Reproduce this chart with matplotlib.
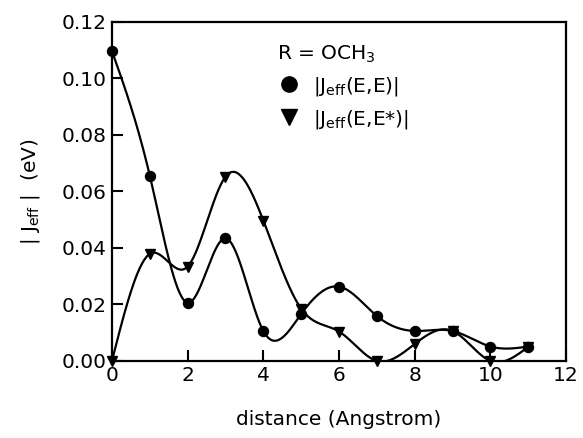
import numpy as np
import matplotlib
matplotlib.use("Agg")
import matplotlib.pyplot as plt
from matplotlib.lines import Line2D

# distance in Angstrom
distance = [0, 1, 2, 3, 4, 5, 6, 7, 8, 9, 10, 11]
j_ee = [0.1097, 0.0656, 0.0206, 0.0434, 0.0106, 0.0166, 0.0263, 0.0159, 0.0106, 0.0106, 0.0051, 0.0051]
j_eestar = [0.0, 0.0379, 0.0334, 0.0652, 0.0497, 0.0185, 0.0104, 0.0, 0.0060, 0.0106, 0.0, 0.0050]


def natural_spline(x, y, n=400):
    # smooth curve through the points, like the original plot program
    x = np.asarray(x, float)
    y = np.asarray(y, float)
    m = len(x)
    h = np.diff(x)
    A = np.zeros((m, m))
    b = np.zeros(m)
    A[0, 0] = A[-1, -1] = 1
    for i in range(1, m - 1):
        A[i, i - 1] = h[i - 1]
        A[i, i] = 2 * (h[i - 1] + h[i])
        A[i, i + 1] = h[i]
        b[i] = 6 * ((y[i + 1] - y[i]) / h[i] - (y[i] - y[i - 1]) / h[i - 1])
    M = np.linalg.solve(A, b)
    xs = np.linspace(x[0], x[-1], n)
    k = np.clip(np.searchsorted(x, xs) - 1, 0, m - 2)
    t1 = x[k + 1] - xs
    t0 = xs - x[k]
    hk = h[k]
    ys = (M[k] * t1**3 + M[k + 1] * t0**3) / (6 * hk) \
        + (y[k] / hk - M[k] * hk / 6) * t1 + (y[k + 1] / hk - M[k + 1] * hk / 6) * t0
    return xs, ys


plt.rcParams['font.family'] = 'DejaVu Sans'
fig = plt.figure(figsize=(5.83, 4.38), dpi=100)
ax = fig.add_axes([0.192, 0.176, 0.779, 0.774])

for ys, mk in [(j_ee, 'o'), (j_eestar, 'v')]:
    sx, sy = natural_spline(distance, ys)
    ax.plot(sx, sy, color='black', lw=1.6, clip_on=True)
    ax.plot(distance, ys, mk, color='black', ms=7.2, clip_on=False, zorder=3)

ax.set_xlim(0, 12)
ax.set_ylim(0, 0.12)
ax.set_xticks(range(0, 13, 2))
ax.set_yticks(np.arange(0, 0.121, 0.02))
ax.yaxis.set_major_formatter(matplotlib.ticker.FormatStrFormatter('%.2f'))
ax.tick_params(direction='in', length=8, width=1.5, labelsize=14.5, pad=4,
               top=False, right=False)
for s in ax.spines.values():
    s.set_linewidth(1.6)

ax.set_xlabel('distance (Angstrom)', fontsize=14.5, labelpad=18)
ax.set_ylabel(r'| J$_{\rm eff}$ |  (eV)', fontsize=14.5, labelpad=14)

handles = [Line2D([], [], marker='o', ls='none', color='black', ms=11),
           Line2D([], [], marker='v', ls='none', color='black', ms=11)]
ax.legend(handles, [r'|J$_{\rm eff}$(E,E)|', r'|J$_{\rm eff}$(E,E*)|'],
          title=r'R = OCH$_3$', title_fontsize=14.5, fontsize=14.5,
          frameon=False, loc='upper left', bbox_to_anchor=(0.345, 0.96),
          handletextpad=0.6, handlelength=1.2, labelspacing=0.5,
          alignment='left', borderaxespad=0)

fig.savefig('out.png', dpi=100)
